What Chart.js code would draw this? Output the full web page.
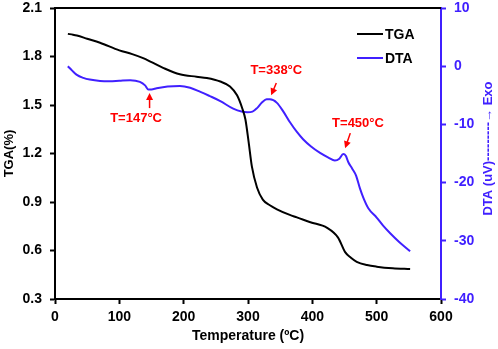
<!DOCTYPE html>
<html>
<head>
<meta charset="utf-8">
<script src="https://cdn.jsdelivr.net/npm/chart.js@4/dist/chart.umd.min.js"></script>
<style>
  html, body { margin: 0; padding: 0; background: #fff; }
  #wrap { width: 498px; height: 349px; }
</style>
</head>
<body>
<div id="wrap"><canvas id="tgaChart"></canvas></div>
<script>

// TGA curve
const tgaTemp  = [20, 28, 34, 50, 70, 100, 120, 137, 150, 168, 194, 220, 236, 257, 272, 283, 291, 296, 301, 306, 314, 323, 334, 345, 365, 376, 397, 423, 440, 451, 460, 469, 485, 500, 525, 552];
const tgaValue = [1.94, 1.935, 1.93, 1.91, 1.885, 1.838, 1.815, 1.79, 1.765, 1.73, 1.69, 1.675, 1.667, 1.645, 1.615, 1.56, 1.48, 1.41, 1.27, 1.12, 0.99, 0.915, 0.88, 0.855, 0.82, 0.805, 0.775, 0.74, 0.68, 0.59, 0.555, 0.53, 0.51, 0.50, 0.49, 0.485];

// DTA curve
const dtaTemp  = [20, 27, 34, 44, 54, 70, 85, 100, 117, 132, 140, 145, 150, 158, 175, 194, 210, 226, 240, 257, 277, 290, 299, 307, 314, 322, 329, 334, 345, 355, 365, 376, 386, 398, 412, 425, 435, 442, 448, 452, 456, 462, 468, 474, 480, 487, 500, 510, 521, 535, 552];
const dtaValue = [0, -0.8, -1.5, -2.0, -2.3, -2.55, -2.6, -2.5, -2.4, -2.7, -3.3, -4.0, -4.0, -3.8, -3.5, -3.4, -3.7, -4.4, -5.1, -6.0, -7.3, -7.8, -7.9, -7.8, -7.2, -6.2, -5.7, -5.7, -6.3, -7.8, -9.6, -11.3, -12.6, -13.8, -14.9, -15.7, -16.2, -15.9, -15.1, -15.4, -16.5, -17.6, -18.8, -21, -22.8, -24.4, -26, -27.4, -28.7, -30.2, -31.8];

const xTicks   = [0, 100, 200, 300, 400, 500, 600];
const tgaTicks = [0.3, 0.6, 0.9, 1.2, 1.5, 1.8, 2.1];
const dtaTicks = [-40, -30, -20, -10, 0, 10];

// peak labels: text spot and arrow (temperature, DTA units)
const peakNotes = [
  { text: 'T=147°C', tx: 126, ty: -8.9, from: [147, -7.2], to: [147, -4.6] },
  { text: 'T=338°C', tx: 344, ty: -0.7, from: [344, -2.9], to: [336, -5.0] },
  { text: 'T=450°C', tx: 471, ty: -9.8, from: [459, -11.5], to: [451, -14.1] }
];

const BLUE = 'rgb(64,32,255)';
const FONT = 'Liberation Sans, Arial, sans-serif';

function toPts(xs, ys) {
  return xs.map((x, i) => ({ x: x, y: ys[i] }));
}

// fixed box for the y axes so the plot sits where the original does
function fitY(width) {
  return s => {
    s.width = width;
    s.paddingTop = 8;
    s.paddingBottom = 8;
  };
}

const extras = {
  id: 'extras',
  afterDraw(chart) {
    const ctx = chart.ctx;
    const a = chart.chartArea;
    const sx = chart.scales.x, sy = chart.scales.y1;

    // top frame line
    ctx.save();
    ctx.strokeStyle = '#000';
    ctx.lineWidth = 2;
    ctx.beginPath();
    ctx.moveTo(a.left - 1, a.top);
    ctx.lineTo(a.right, a.top);
    ctx.stroke();

    // legend
    ctx.font = 'bold 14px ' + FONT;
    ctx.textBaseline = 'middle';
    ctx.textAlign = 'left';
    chart.data.datasets.forEach((ds, i) => {
      const y = 34 + i * 24;
      ctx.strokeStyle = ds.borderColor;
      ctx.lineWidth = 2;
      ctx.beginPath();
      ctx.moveTo(357, y);
      ctx.lineTo(383, y);
      ctx.stroke();
      ctx.fillStyle = '#000';
      ctx.fillText(ds.label, 385, y + 1);
    });

    // peak notes
    ctx.fillStyle = '#ff0000';
    ctx.strokeStyle = '#ff0000';
    ctx.textAlign = 'center';
    ctx.font = 'bold 13px ' + FONT;
    peakNotes.forEach(n => {
      ctx.fillText(n.text, sx.getPixelForValue(n.tx), sy.getPixelForValue(n.ty));
      const x0 = sx.getPixelForValue(n.from[0]), y0 = sy.getPixelForValue(n.from[1]);
      const x1 = sx.getPixelForValue(n.to[0]),   y1 = sy.getPixelForValue(n.to[1]);
      const ang = Math.atan2(y1 - y0, x1 - x0);
      ctx.lineWidth = 1.5;
      ctx.beginPath();
      ctx.moveTo(x0, y0);
      ctx.lineTo(x1 - 5 * Math.cos(ang), y1 - 5 * Math.sin(ang));
      ctx.stroke();
      ctx.beginPath();
      ctx.moveTo(x1, y1);
      ctx.lineTo(x1 - 7 * Math.cos(ang) + 3.5 * Math.sin(ang), y1 - 7 * Math.sin(ang) - 3.5 * Math.cos(ang));
      ctx.lineTo(x1 - 7 * Math.cos(ang) - 3.5 * Math.sin(ang), y1 - 7 * Math.sin(ang) + 3.5 * Math.cos(ang));
      ctx.closePath();
      ctx.fill();
    });

    // right axis title, reads bottom to top
    ctx.translate(488, (a.top + a.bottom) / 2 - 5);
    ctx.rotate(-Math.PI / 2);
    ctx.fillStyle = BLUE;
    ctx.font = 'bold 13px ' + FONT;
    ctx.fillText('DTA (uV)---------\u2192 Exo', 0, 0);
    ctx.restore();
  }
};

new Chart(document.getElementById('tgaChart'), {
  type: 'line',
  data: {
    datasets: [
      {
        label: 'TGA',
        data: toPts(tgaTemp, tgaValue),
        yAxisID: 'y',
        borderColor: '#000',
        borderWidth: 2,
        pointRadius: 0,
        cubicInterpolationMode: 'monotone',
        fill: false
      },
      {
        label: 'DTA',
        data: toPts(dtaTemp, dtaValue),
        yAxisID: 'y1',
        borderColor: BLUE,
        borderWidth: 2,
        pointRadius: 0,
        cubicInterpolationMode: 'monotone',
        fill: false
      }
    ]
  },
  options: {
    responsive: true,
    maintainAspectRatio: false,
    animation: false,
    layout: { padding: 0 },
    plugins: {
      legend: { display: false },
      tooltip: { enabled: false }
    },
    scales: {
      x: {
        type: 'linear',
        min: 0,
        max: 600,
        afterBuildTicks: s => { s.ticks = xTicks.map(v => ({ value: v })); },
        afterFit: s => { s.height = 50; },
        ticks: { color: '#000', padding: 5, font: { family: FONT, size: 14, weight: 'bold' } },
        grid: { drawOnChartArea: false, drawTicks: true, tickLength: 5, tickWidth: 2, color: '#000' },
        border: { color: '#000', width: 2 },
        title: {
          display: true,
          text: 'Temperature (ºC)',
          color: '#000',
          padding: { top: 0, bottom: 4 },
          font: { family: FONT, size: 14, weight: 'bold' }
        }
      },
      y: {
        type: 'linear',
        position: 'left',
        min: 0.3,
        max: 2.1,
        afterBuildTicks: s => { s.ticks = tgaTicks.map(v => ({ value: v })); },
        afterFit: fitY(55),
        ticks: {
          color: '#000',
          padding: 8,
          callback: v => v.toFixed(1),
          font: { family: FONT, size: 14, weight: 'bold' }
        },
        grid: { drawOnChartArea: false, drawTicks: true, tickLength: 5, tickWidth: 2, color: '#000' },
        border: { color: '#000', width: 2 },
        title: {
          display: true,
          text: 'TGA(%)',
          color: '#000',
          padding: { top: 2, bottom: 0 },
          font: { family: FONT, size: 13, weight: 'bold' }
        }
      },
      y1: {
        type: 'linear',
        position: 'right',
        min: -40,
        max: 10,
        afterBuildTicks: s => { s.ticks = dtaTicks.map(v => ({ value: v })); },
        afterFit: fitY(57),
        ticks: { color: BLUE, padding: 8, font: { family: FONT, size: 14, weight: 'bold' } },
        grid: { drawOnChartArea: false, drawTicks: true, tickLength: 5, tickWidth: 2, color: BLUE },
        border: { color: BLUE, width: 2 }
      }
    }
  },
  plugins: [extras]
});

</script>
</body>
</html>
